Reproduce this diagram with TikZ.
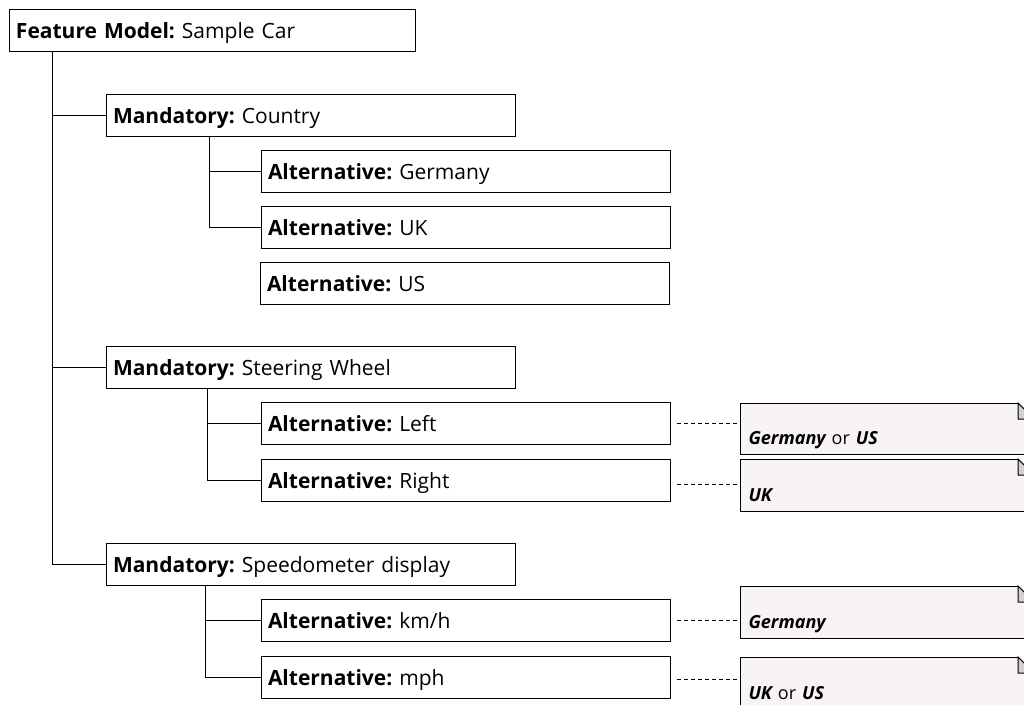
\documentclass[tikz,border=0pt]{standalone}
\usepackage{fontspec}
\setmainfont{Open Sans}
\frenchspacing
\definecolor{notefill}{RGB}{247,243,247}
\definecolor{foldfill}{RGB}{210,206,212}
\tikzset{
  feature/.style={draw, line width=1pt, anchor=north west, minimum height=42pt,
    text width=396pt, inner xsep=6.5pt, inner ysep=0pt, text height=29pt, text depth=13pt,
    align=left, font=\fontsize{21}{24}\selectfont},
  branch/.style={line width=1pt},
  notebox/.style={draw, line width=1pt, fill=notefill, anchor=north west,
    text width=277pt, inner xsep=8pt, inner ysep=0pt, text height=41pt, text depth=10pt,
    align=left, font=\fontsize{18}{21}\selectfont\bfseries\itshape},
  notelink/.style={line width=1pt, dash pattern=on 4pt off 3pt},
  fold/.style={line width=1pt, fill=foldfill}
}
\begin{document}
\begin{tikzpicture}[x=1pt,y=-1pt]
\useasboundingbox (0,0) rectangle (1024,704);
\fill[white] (0,0) rectangle (1024,704);
% features
\node[feature, text width=393pt] (car) at (9,9) {\textbf{Feature Model:} Sample Car};
\node[feature] (country) at (106,94) {\textbf{Mandatory:} Country};
\node[feature] (germany) at (261,150) {\textbf{Alternative:} Germany};
\node[feature] (uk) at (261,206) {\textbf{Alternative:} UK};
\node[feature] (us) at (260,262) {\textbf{Alternative:} US};
\node[feature] (wheel) at (106,346) {\textbf{Mandatory:} Steering Wheel};
\node[feature] (left) at (261,402) {\textbf{Alternative:} Left};
\node[feature] (right) at (261,459) {\textbf{Alternative:} Right};
\node[feature] (speedo) at (106,543) {\textbf{Mandatory:} Speedometer display};
\node[feature] (kmh) at (261,599) {\textbf{Alternative:} km/h};
\node[feature] (mph) at (261,656) {\textbf{Alternative:} mph};
% tree
\draw[branch] ([xshift=43pt]car.south west) |- (country.west);
\draw[branch] ([xshift=43pt]car.south west) |- (wheel.west);
\draw[branch] ([xshift=43pt]car.south west) |- (speedo.west);
\draw[branch] ([xshift=103pt]country.south west) |- (germany.west);
\draw[branch] ([xshift=103pt]country.south west) |- (uk.west);
\draw[branch] ([xshift=101pt]wheel.south west) |- (left.west);
\draw[branch] ([xshift=101pt]wheel.south west) |- (right.west);
\draw[branch] ([xshift=99pt]speedo.south west) |- (kmh.west);
\draw[branch] ([xshift=99pt]speedo.south west) |- (mph.west);
% notes
\node[notebox, minimum height=51pt] (leftnote) at (740,403) {Germany \textmd{\upshape or} US};
\node[notebox, minimum height=52pt] (rightnote) at (740,459) {UK};
\node[notebox, minimum height=52pt] (kmhnote) at (740,586) {Germany};
\node[notebox, minimum height=52pt] (mphnote) at (740,657) {UK \textmd{\upshape or} US};
\foreach \n in {leftnote,rightnote,kmhnote,mphnote}{
  \fill[white] ([xshift=-16pt]\n.north east) -- (\n.north east) -- ([yshift=-16pt]\n.north east) -- cycle;
  \draw[line width=1pt] ([xshift=-16pt]\n.north east) -- ([yshift=-16pt]\n.north east);
  \draw[fold] ([xshift=-16pt]\n.north east) -- ([xshift=-16pt,yshift=-16pt]\n.north east) -- ([yshift=-16pt]\n.north east) -- cycle;
}
\draw[notelink] ([xshift=6pt]left.east) -- (left.east -| leftnote.west);
\draw[notelink] ([xshift=6pt,yshift=-4pt]right.east) -- ([yshift=-4pt]right.east -| rightnote.west);
\draw[notelink] ([xshift=6pt]kmh.east) -- (kmh.east -| kmhnote.west);
\draw[notelink] ([xshift=6pt,yshift=-2pt]mph.east) -- ([yshift=-2pt]mph.east -| mphnote.west);
\end{tikzpicture}
\end{document}
